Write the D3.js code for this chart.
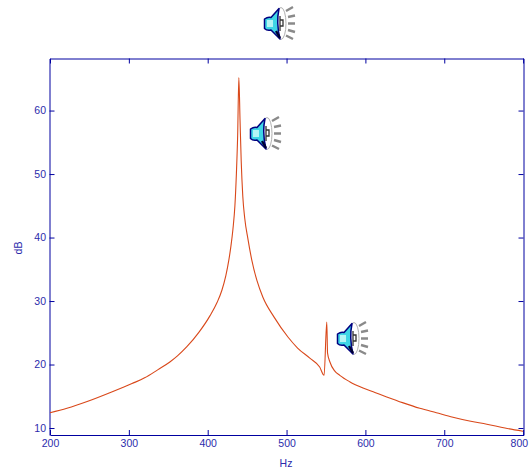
<!DOCTYPE html>
<html><head><meta charset="utf-8">
<script src="https://cdn.jsdelivr.net/npm/d3@7"></script>
<style>html,body{margin:0;padding:0;background:#fff}svg{display:block}</style>
</head><body><svg id="c" width="529" height="472"></svg>
<script>
const hz = [200,221.5,248,279,304,320,337,352,362,373.6,389,403,412,418,423,427,429.4,432,434.5,436.4,438,439.5,441,442.5,444.5,447,451,456,462.5,470,484,502,514,529.5,542,547.6,551,552,555,561,567.5,580,597,612,627,647,669,690,711,732,754,777,800];
const db = [12.4,13.1,14.2,15.7,17.0,17.9,19.2,20.4,21.4,22.8,25.1,27.7,29.8,31.7,34,36.6,38.6,41.3,45,50.1,56.1,65.2,58.5,52,46.5,43,39.8,36.4,33.2,30.6,27.5,24.3,22.6,21,19.6,18.3,26.7,21.8,20.4,19.0,18.3,17.3,16.3,15.6,14.9,14.0,13.1,12.4,11.7,11.1,10.6,10.0,9.5];
const xTicks = [200,300,400,500,600,700,800];
const yTicks = [10,20,30,40,50,60];
const xLabel = "Hz", yLabel = "dB";
const speakers = [[263,6],[249,116],[336,321]];

const L=49.5,R=523.5,T=58.5,B=435;
const blue="#0000a0", textBlue="#2b2bab", red="#d9481a";
const x=d3.scaleLinear().domain([200,800.5]).range([L+0.5,R]);
const y=d3.scaleLinear().domain([8.9,68.2]).range([B,T]);
const svg=d3.select("#c");
const font="'Liberation Sans',Arial,sans-serif";

function style(g){
  g.selectAll("path.domain").attr("stroke",blue).attr("stroke-width",1);
  g.selectAll(".tick line").attr("stroke",blue).attr("stroke-width",1);
  g.selectAll("text").attr("fill",textBlue).attr("font-family",font).attr("font-size",10.5);
}
svg.append("g").attr("transform",`translate(0,${B})`).call(d3.axisBottom(x).tickValues(xTicks).tickSize(-5).tickSizeOuter(0).tickPadding(5).tickFormat(d3.format("d"))).call(style)
  .selectAll(".tick text").filter(d=>d===800).attr("text-anchor","end").attr("x",4.5);
svg.append("g").attr("transform",`translate(0,${T})`).call(d3.axisTop(x).tickValues(xTicks).tickSize(-5).tickSizeOuter(0).tickFormat("")).call(style);
svg.append("g").attr("transform",`translate(${L},0)`).call(d3.axisLeft(y).tickValues(yTicks).tickSize(-5).tickSizeOuter(0).tickPadding(3.5).tickFormat(d3.format("d"))).call(style);
svg.append("g").attr("transform",`translate(${R},0)`).call(d3.axisRight(y).tickValues(yTicks).tickSize(-5).tickSizeOuter(0).tickFormat("")).call(style);

svg.append("path").datum(d3.zip(hz,db)).attr("fill","none").attr("stroke",red).attr("stroke-width",1.1)
  .attr("d",d3.line().x(d=>x(d[0])).y(d=>y(d[1])).curve(d3.curveMonotoneX));

svg.append("text").attr("x",286).attr("y",467).attr("text-anchor","middle").attr("fill",textBlue).attr("font-family",font).attr("font-size",10.5).text(xLabel);
svg.append("text").attr("transform","translate(21.5,248) rotate(-90)").attr("text-anchor","middle").attr("fill",textBlue).attr("font-family",font).attr("font-size",10.5).text(yLabel);

const sp=svg.selectAll("g.sp").data(speakers).join("g").attr("class","sp").attr("transform",d=>`translate(${d[0]},${d[1]})`);
sp.append("path").attr("d","M23,5L30,1M25,11L32,9.5M25,17.5L32,17.5M25,24L32,26M23,29.5L30,33").attr("stroke","#8a8a8a").attr("stroke-width",2.4).attr("fill","none");
sp.append("ellipse").attr("cx",18).attr("cy",17.5).attr("rx",5).attr("ry",16).attr("fill","#fff").attr("stroke","#b0b0b0").attr("stroke-width",1);
sp.append("path").attr("d","M1.5,13Q5,10.5 8,11.5L16,2.5Q13,17 17,33L8,24Q4,25 1.5,22.5Z").attr("fill","#3fd6e6").attr("stroke","#000080").attr("stroke-width",1.5).attr("stroke-linejoin","round");
sp.append("rect").attr("x",4).attr("y",14).attr("width",6).attr("height",7).attr("fill","#b5f5f5");
sp.append("path").attr("d","M13,25L17,32").attr("stroke","#000030").attr("stroke-width",2.4);
sp.append("path").attr("d","M17,10V25M17,14H20V20H17").attr("stroke","#333").attr("stroke-width",1.3).attr("fill","none");
</script></body></html>
